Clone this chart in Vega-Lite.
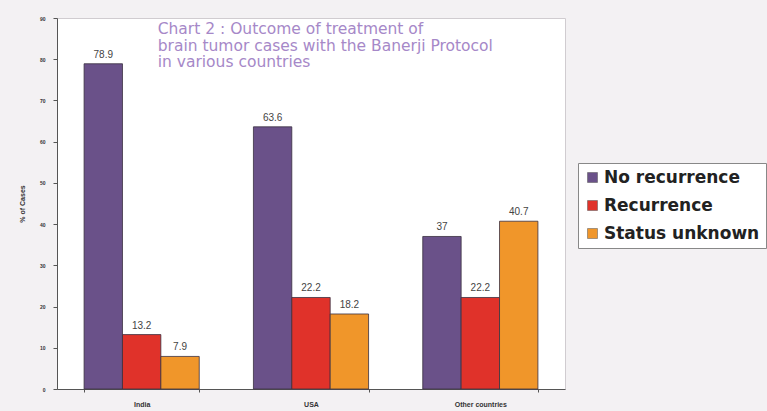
{
  "$schema": "https://vega.github.io/schema/vega-lite/v6.json",
  "width": 508,
  "height": 371,
  "autosize": {"type": "none"},
  "padding": {"left": 57, "top": 18, "right": 202, "bottom": 22},
  "background": "#f3f1f3",
  "config": {
    "view": {"fill": "#ffffff", "stroke": "#d0ccd0", "strokeWidth": 1},
    "font": "Liberation Sans"
  },
  "data": {
    "values": [
      {"country": "India", "outcome": "No recurrence", "pct": 78.9},
      {"country": "India", "outcome": "Recurrence", "pct": 13.2},
      {"country": "India", "outcome": "Status unknown", "pct": 7.9},
      {"country": "USA", "outcome": "No recurrence", "pct": 63.6},
      {"country": "USA", "outcome": "Recurrence", "pct": 22.2},
      {"country": "USA", "outcome": "Status unknown", "pct": 18.2},
      {"country": "Other countries", "outcome": "No recurrence", "pct": 37},
      {"country": "Other countries", "outcome": "Recurrence", "pct": 22.2},
      {"country": "Other countries", "outcome": "Status unknown", "pct": 40.7}
    ]
  },
  "encoding": {
    "x": {
      "field": "country", "type": "nominal", "sort": ["India", "USA", "Other countries"],
      "scale": {"paddingInner": 0.32, "paddingOuter": 0.16},
      "axis": {"title": null, "labelAngle": 0, "labelFontSize": 7, "labelFontWeight": "bold", "labelColor": "#333333", "tickBand": "extent", "tickSize": 3, "domainColor": "#555555", "tickColor": "#555555", "labelPadding": 8}
    }
  },
  "layer": [
    {
      "mark": {"type": "bar", "stroke": "#3a3040", "strokeWidth": 0.8},
      "encoding": {
        "xOffset": {"field": "outcome", "type": "nominal", "sort": ["No recurrence", "Recurrence", "Status unknown"]},
        "y": {
          "field": "pct", "type": "quantitative",
          "scale": {"domain": [0, 90]},
          "axis": {"title": "% of Cases", "titleFontSize": 7, "titleFontWeight": "bold", "titleColor": "#333333", "titlePadding": 14, "values": [0,10,20,30,40,50,60,70,80,90], "labelFontSize": 5, "labelFontWeight": "bold", "labelColor": "#333333", "grid": false, "tickSize": 4, "domainColor": "#555555", "tickColor": "#555555", "labelPadding": 8}
        },
        "color": {
          "field": "outcome", "type": "nominal",
          "scale": {"domain": ["No recurrence", "Recurrence", "Status unknown"], "range": ["#6a5189", "#e0322a", "#f0962a"]},
          "legend": {
            "title": null, "orient": "none", "legendX": 521, "legendY": 145,
            "symbolType": "square", "symbolSize": 100, "symbolStrokeColor": "#555555", "symbolStrokeWidth": 0.5,
            "labelFontSize": 17, "labelFontWeight": "bold", "labelColor": "#222222", "labelFont": "DejaVu Sans",
            "labelOffset": 3, "rowPadding": 10, "padding": 6, "fillColor": "#ffffff", "strokeColor": "#888888", "labelLimit": 300
          }
        }
      }
    },
    {
      "mark": {"type": "text", "dy": -9, "fontSize": 10, "color": "#444444"},
      "encoding": {
        "xOffset": {"field": "outcome", "type": "nominal", "sort": ["No recurrence", "Recurrence", "Status unknown"]},
        "y": {"field": "pct", "type": "quantitative"},
        "text": {"field": "pct", "type": "quantitative"}
      }
    },
    {
      "data": {"values": [{"note": "title"}]},
      "mark": {"type": "text", "align": "left", "baseline": "top", "dx": 16, "dy": 4, "fontSize": 15.5, "lineHeight": 16.5, "color": "#a688c8", "font": "DejaVu Sans"},
      "encoding": {
        "x": {"datum": "India"},
        "y": {"datum": 90},
        "text": {"value": ["Chart 2 : Outcome of treatment of", "brain tumor cases with the Banerji Protocol", "in various countries"]}
      }
    }
  ]
}
